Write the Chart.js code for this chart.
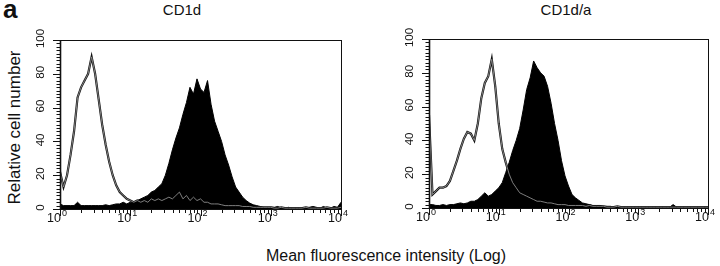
<!DOCTYPE html>
<html>
<head>
<meta charset="utf-8">
<script src="https://cdn.jsdelivr.net/npm/chart.js@4.4.1/dist/chart.umd.min.js"></script>
<style>
  html, body { margin: 0; padding: 0; background: #fff; }
  body { width: 720px; height: 266px; position: relative; overflow: hidden; font-family: "Liberation Sans", Arial, sans-serif; color: #111; }
  .pane { position: absolute; top: 0; width: 360px; height: 266px; }
  .lbl { position: absolute; white-space: nowrap; }
</style>
</head>
<body>
<div class="lbl" style="left:3px; top:-4px; font-size:26px; line-height:26px; font-weight:bold;">a</div>
<div class="lbl" style="left:132px; width:100px; text-align:center; top:2px; font-size:15px; line-height:15px;">CD1d</div>
<div class="lbl" style="left:516px; width:100px; text-align:center; top:2px; font-size:15px; line-height:15px;">CD1d/a</div>
<div class="lbl" style="left:236px; width:300px; text-align:center; top:248px; font-size:16px; line-height:16px;">Mean fluorescence intensity (Log)</div>
<div class="lbl" style="left:-86px; top:119px; width:200px; text-align:center; font-size:17px; line-height:17px; transform:rotate(-90deg);">Relative cell number</div>

<div class="pane" style="left:0"><canvas id="cd1d" width="360" height="266"></canvas></div>
<div class="pane" style="left:360px"><canvas id="cd1da" width="360" height="266"></canvas></div>

<script>
// histogram channels, in decades of log10 intensity (10^0 .. 10^4)
const decades = [0, 0.05, 0.1, 0.15, 0.2, 0.25, 0.3, 0.35, 0.4, 0.45,
  0.5, 0.55, 0.6, 0.65, 0.7, 0.75, 0.8, 0.85, 0.9, 0.95,
  1, 1.05, 1.1, 1.15, 1.2, 1.25, 1.3, 1.35, 1.4, 1.45,
  1.5, 1.55, 1.6, 1.65, 1.7, 1.75, 1.8, 1.85, 1.9, 1.95,
  2, 2.05, 2.1, 2.15, 2.2, 2.25, 2.3, 2.35, 2.4, 2.45,
  2.5, 2.55, 2.6, 2.65, 2.7, 2.75, 2.8, 2.85, 2.9, 2.95,
  3, 3.05, 3.1, 3.15, 3.2, 3.25, 3.3, 3.35, 3.4, 3.45,
  3.5, 3.55, 3.6, 3.65, 3.7, 3.75, 3.8, 3.85, 3.9, 3.95, 4];

// CD1d panel: open histogram = control, filled = CD1d staining
const cd1dControl = [22, 13, 20, 32, 46, 66, 72, 76, 80, 90,
  80, 65, 50, 38, 28, 20, 14, 10, 8, 6,
  5, 4, 5, 4, 5, 4, 6, 5, 6, 5,
  6, 7, 6, 8, 10, 6, 8, 5, 7, 5,
  6, 4, 4, 3, 3, 3, 2.5, 2, 2, 2,
  2, 2, 1.5, 1.5, 1.5, 1, 1, 1, 1, 1,
  1, 0.5, 0.5, 1, 0.5, 0.5, 0.5, 0.5, 0.5, 0.5,
  1, 0.5, 0.5, 0.5, 0.5, 0.5, 1, 0.5, 0.5, 0.5, 1];
const cd1dStained = [3, 2, 2, 2, 2, 4, 2, 2, 2, 2,
  2, 2, 2, 2.5, 2, 2.5, 3, 3, 4, 3,
  4, 4, 5, 6, 7, 8, 10, 11, 13, 15,
  20, 27, 35, 42, 48, 56, 63, 72, 68, 77,
  71, 69, 76, 62, 52, 46, 40, 32, 26, 19,
  13, 10, 7, 5, 3.5, 2.5, 2, 1.5, 1, 1,
  1, 1, 1.5, 0.5, 0.5, 1, 0.5, 0.5, 0.5, 0.5,
  0.5, 1, 1.5, 1, 0.5, 1.5, 0.5, 0.5, 1.5, 1, 4];

// CD1d/a panel
const cd1daControl = [55, 8, 10, 12, 12, 13, 16, 22, 28, 35,
  41, 45, 44, 40, 50, 65, 74, 78, 88, 72,
  50, 35, 27, 20, 15, 12, 9, 8, 7, 6,
  5, 4, 4, 3.5, 3, 3, 2.5, 2, 2, 2,
  1.5, 1.5, 1.5, 1.5, 1.5, 1, 1.5, 1, 1, 1,
  1, 0.5, 0.5, 0.5, 1, 0.5, 0.5, 0.5, 0.5, 0.5,
  0.5, 0.5, 0.5, 0.5, 0.5, 0.5, 0.5, 0.5, 0.5, 0.5,
  0.5, 0.5, 0.5, 0.5, 0.5, 0.5, 0.5, 0.5, 0.5, 0.5, 0.5];
const cd1daStained = [2, 2, 1.5, 1.5, 2, 1.5, 2, 2, 2.5, 3,
  2.5, 3, 4, 4, 5, 7, 9, 7, 8, 10,
  12, 15, 21, 27, 34, 40, 47, 58, 70, 77,
  87, 83, 80, 78, 72, 62, 50, 40, 28, 19,
  13, 8, 6, 4.5, 3, 2.5, 2, 1.5, 1.5, 1.5,
  1, 1, 1, 0.5, 0.5, 0.5, 0.5, 0.5, 0.5, 0.5,
  0.5, 0.5, 0.5, 0.5, 0.5, 0.5, 0.5, 0.5, 0.5, 0.5,
  2, 0.5, 0.5, 0.5, 0.5, 0.5, 0.5, 0.5, 0.5, 0.5, 0.5];

const xMajor = [0, 1, 2, 3, 4];
const xMinorMultipliers = [2, 3, 4, 5, 6, 7, 8, 9];
const yMajor = [0, 20, 40, 60, 80, 100];
const yMinorStep = 2;

const FONT = '"Liberation Sans", Arial, sans-serif';

// frame, tick marks and tick labels, drawn with the chart's own scales
const frameTicks = {
  id: 'frameTicks',
  afterDatasetsDraw(chart) {
    const { ctx, chartArea: a, scales: { x, y } } = chart;
    ctx.save();
    ctx.strokeStyle = '#111';
    ctx.lineWidth = 1;
    ctx.strokeRect(a.left + 0.5, a.top + 0.5, a.right - a.left, a.bottom - a.top);
    ctx.lineWidth = 1.6;
    ctx.beginPath();
    ctx.moveTo(a.left + 0.5, a.top);
    ctx.lineTo(a.left + 0.5, a.bottom + 1);
    ctx.stroke();

    // x ticks (log decades + minor)
    ctx.lineWidth = 1;
    ctx.beginPath();
    xMajor.forEach(d => {
      const px = Math.round(x.getPixelForValue(d)) + 0.5;
      ctx.moveTo(px, a.bottom); ctx.lineTo(px, a.bottom + 7);
      if (d < 4) {
        xMinorMultipliers.forEach(m => {
          const mx = Math.round(x.getPixelForValue(d + Math.log10(m))) + 0.5;
          ctx.moveTo(mx, a.bottom); ctx.lineTo(mx, a.bottom + 4);
        });
      }
    });
    // y ticks
    for (let v = 0; v <= 100; v += yMinorStep) {
      const py = Math.round(y.getPixelForValue(v)) + 0.5;
      const len = yMajor.includes(v) ? 7 : 3.5;
      ctx.moveTo(a.left, py); ctx.lineTo(a.left - len, py);
    }
    ctx.stroke();

    // x labels: 10 with superscript exponent
    ctx.fillStyle = '#111';
    ctx.textBaseline = 'alphabetic';
    xMajor.forEach(d => {
      const px = x.getPixelForValue(d);
      ctx.font = '12.5px ' + FONT;
      ctx.textAlign = 'right';
      ctx.fillText('10', px + 1, a.bottom + 13);
      ctx.font = '9px ' + FONT;
      ctx.textAlign = 'left';
      ctx.fillText(String(d), px + 2, a.bottom + 7);
    });

    // y labels, rotated
    ctx.font = '11.5px ' + FONT;
    ctx.textAlign = 'center';
    ctx.textBaseline = 'middle';
    yMajor.forEach(v => {
      const py = y.getPixelForValue(v) - 1.5;
      ctx.save();
      ctx.translate(a.left - 19, py);
      ctx.rotate(-Math.PI / 2);
      ctx.fillText(String(v), 0, 0);
      ctx.restore();
    });
    ctx.restore();
  }
};

function makeHistogram(canvasId, control, stained, area) {
  const pts = arr => decades.map((d, i) => ({ x: d, y: arr[i] }));
  return new Chart(document.getElementById(canvasId), {
    type: 'line',
    data: {
      datasets: [
        { // light core of the control trace, on top
          data: pts(control), order: 0,
          borderColor: '#8c8c8c', borderWidth: 0.9, pointRadius: 0, fill: false
        },
        {
          data: pts(stained), order: 1,
          borderColor: '#000', backgroundColor: '#000', borderWidth: 1,
          pointRadius: 0, fill: 'origin'
        },
        { // dark outline of the control trace, under the filled histogram
          data: pts(control), order: 2,
          borderColor: '#111', borderWidth: 2.2, pointRadius: 0, fill: false
        }
      ]
    },
    options: {
      responsive: false,
      animation: false,
      events: [],
      layout: { padding: { left: 0, top: area.top, right: 360 - area.right, bottom: 0 } },
      plugins: { legend: { display: false }, tooltip: { enabled: false } },
      scales: {
        x: {
          type: 'linear', min: 0, max: 4,
          grid: { display: false }, border: { display: false },
          ticks: { display: false },
          afterFit: s => { s.height = 266 - area.bottom; }
        },
        y: {
          min: 0, max: 100,
          grid: { display: false }, border: { display: false },
          ticks: { display: false },
          afterFit: s => { s.width = area.left; }
        }
      }
    },
    plugins: [frameTicks]
  });
}

makeHistogram('cd1d', cd1dControl, cd1dStained, { left: 60, right: 341, top: 40, bottom: 209 });
makeHistogram('cd1da', cd1daControl, cd1daStained, { left: 69, right: 348, top: 39, bottom: 208 });
</script>
</body>
</html>
